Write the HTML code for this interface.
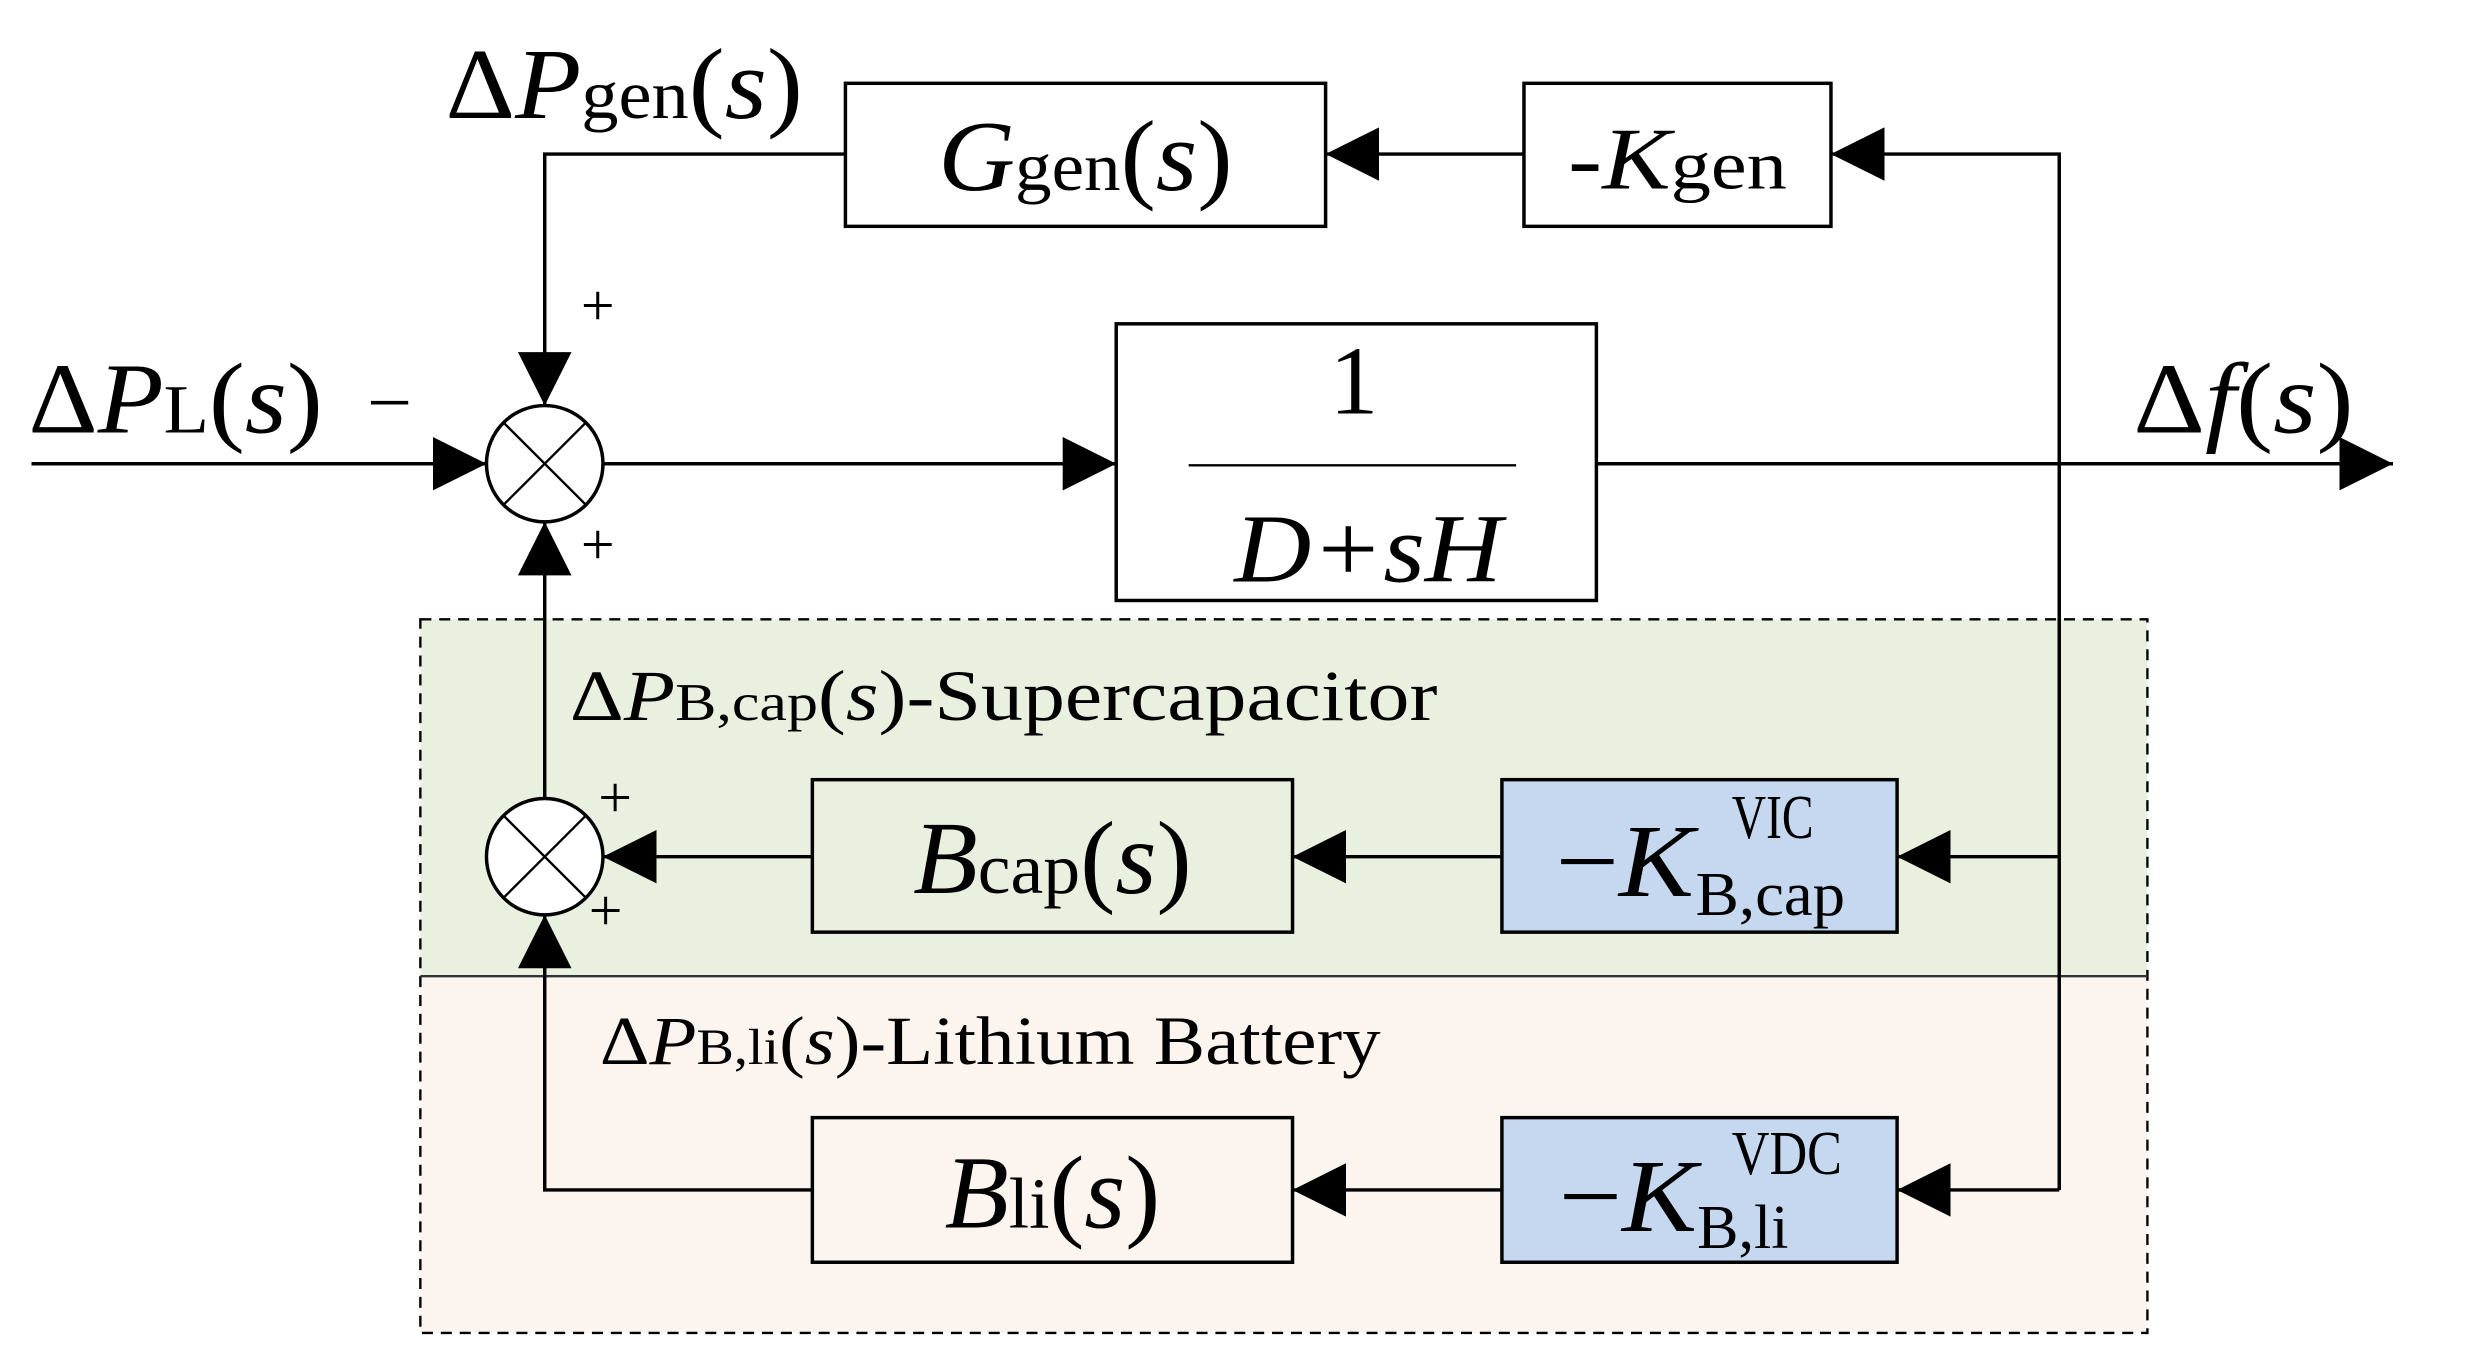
<!DOCTYPE html>
<html><head><meta charset="utf-8"><style>
html,body{margin:0;padding:0;background:#fff;}
svg{display:block;}
text{font-family:"Liberation Serif",serif;fill:#000;}
.i{font-style:italic;}
</style></head><body>
<svg width="2467" height="1366" viewBox="0 0 1567 869" preserveAspectRatio="none" xmlns="http://www.w3.org/2000/svg">
<defs>
<marker id="a" viewBox="0 0 10 10" refX="10" refY="5" markerWidth="34" markerHeight="34" markerUnits="userSpaceOnUse" orient="auto">
<path d="M0,0 L10,5 L0,10 z" fill="#000"/></marker>
</defs>
<rect x="267" y="394" width="1097" height="227" fill="#e9f0df"/>
<rect x="267" y="621" width="1097" height="227" fill="#fcf4ee"/>
<rect x="267" y="394" width="1097" height="454" fill="none" stroke="#000" stroke-width="1.5" stroke-dasharray="7,5"/>
<line x1="267" y1="621" x2="1364" y2="621" stroke="#333" stroke-width="1.5"/>

<g stroke="#000" stroke-width="2.2" fill="none">
<rect x="537" y="53" width="305" height="91" fill="#fff"/>
<rect x="968" y="53" width="195" height="91" fill="#fff"/>
<rect x="709" y="206" width="305" height="176" fill="#fff"/>
<line x1="755" y1="296" x2="963" y2="296" stroke-width="1.5"/>
<rect x="516" y="496" width="305" height="97" fill="#e9f0df"/>
<rect x="954" y="496" width="251" height="97" fill="#c5d8ef"/>
<rect x="516" y="711" width="305" height="92" fill="#fcf4ee"/>
<rect x="954" y="711" width="251" height="92" fill="#c5d8ef"/>
<circle cx="346" cy="295" r="37" fill="#fff"/>
<line x1="320" y1="269" x2="372" y2="321" stroke-width="1.5"/><line x1="372" y1="269" x2="320" y2="321" stroke-width="1.5"/>
<circle cx="346" cy="545" r="37" fill="#fff"/>
<line x1="320" y1="519" x2="372" y2="571" stroke-width="1.5"/><line x1="372" y1="519" x2="320" y2="571" stroke-width="1.5"/>
<line x1="20" y1="295" x2="309" y2="295" marker-end="url(#a)"/>
<line x1="383" y1="295" x2="709" y2="295" marker-end="url(#a)"/>
<line x1="1014" y1="295" x2="1520" y2="295" marker-end="url(#a)"/>
<polyline points="1308,295 1308,98 1163,98" marker-end="url(#a)"/>
<line x1="968" y1="98" x2="842" y2="98" marker-end="url(#a)"/>
<polyline points="537,98 346,98 346,258" marker-end="url(#a)"/>
<line x1="1308" y1="295" x2="1308" y2="757"/>
<line x1="1308" y1="545" x2="1205" y2="545" marker-end="url(#a)"/>
<line x1="954" y1="545" x2="821" y2="545" marker-end="url(#a)"/>
<line x1="516" y1="545" x2="383" y2="545" marker-end="url(#a)"/>
<line x1="346" y1="508" x2="346" y2="332" marker-end="url(#a)"/>
<line x1="1308" y1="757" x2="1205" y2="757" marker-end="url(#a)"/>
<line x1="954" y1="757" x2="821" y2="757" marker-end="url(#a)"/>
<polyline points="516,757 346,757 346,582" marker-end="url(#a)"/>
</g>

<text x="283" y="75" font-size="64" textLength="227" lengthAdjust="spacingAndGlyphs">Δ<tspan class="i">P</tspan><tspan font-size="44">gen</tspan>(<tspan class="i">s</tspan>)</text>
<text x="18" y="275" font-size="64" textLength="187" lengthAdjust="spacingAndGlyphs">Δ<tspan class="i">P</tspan><tspan font-size="44">L</tspan>(<tspan class="i">s</tspan>)</text>
<text x="236" y="267" font-size="46">–</text>
<text x="369" y="207" font-size="38">+</text>
<text x="369" y="359" font-size="38">+</text>
<text x="1355" y="275" font-size="64" textLength="140" lengthAdjust="spacingAndGlyphs">Δ<tspan class="i">f</tspan>(<tspan class="i">s</tspan>)</text>
<text x="596" y="121" font-size="64" textLength="187" lengthAdjust="spacingAndGlyphs"><tspan class="i">G</tspan><tspan font-size="44">gen</tspan>(<tspan class="i">s</tspan>)</text>
<text x="996" y="120" font-size="56" textLength="139" lengthAdjust="spacingAndGlyphs">-<tspan class="i">K</tspan><tspan font-size="44">gen</tspan></text>
<text x="860" y="263" font-size="62" text-anchor="middle">1</text>
<text x="784" y="370" font-size="62" class="i" textLength="170" lengthAdjust="spacingAndGlyphs">D+sH</text>
<text x="362" y="458" font-size="46" textLength="551" lengthAdjust="spacingAndGlyphs">Δ<tspan class="i">P</tspan><tspan font-size="34">B,cap</tspan>(<tspan class="i">s</tspan>)-Supercapacitor</text>
<text x="381" y="677" font-size="44" textLength="496" lengthAdjust="spacingAndGlyphs">Δ<tspan class="i">P</tspan><tspan font-size="32">B,li</tspan>(<tspan class="i">s</tspan>)-Lithium Battery</text>
<text x="380" y="520" font-size="38">+</text>
<text x="374" y="592" font-size="38">+</text>
<text x="580" y="568" font-size="66" textLength="177" lengthAdjust="spacingAndGlyphs"><tspan class="i">B</tspan><tspan font-size="46">cap</tspan>(<tspan class="i">s</tspan>)</text>
<text x="600" y="781" font-size="66" textLength="137" lengthAdjust="spacingAndGlyphs"><tspan class="i">B</tspan><tspan font-size="46">li</tspan>(<tspan class="i">s</tspan>)</text>
<text x="988" y="570" font-size="66" textLength="88" lengthAdjust="spacingAndGlyphs">−<tspan class="i">K</tspan></text>
<text x="1100" y="533" font-size="40" textLength="52" lengthAdjust="spacingAndGlyphs">VIC</text>
<text x="1077" y="582" font-size="40" textLength="95" lengthAdjust="spacingAndGlyphs">B,cap</text>
<text x="990" y="783" font-size="66" textLength="88" lengthAdjust="spacingAndGlyphs">−<tspan class="i">K</tspan></text>
<text x="1100" y="747" font-size="40" textLength="70" lengthAdjust="spacingAndGlyphs">VDC</text>
<text x="1078" y="794" font-size="40" textLength="58" lengthAdjust="spacingAndGlyphs">B,li</text>
</svg>
</body></html>
